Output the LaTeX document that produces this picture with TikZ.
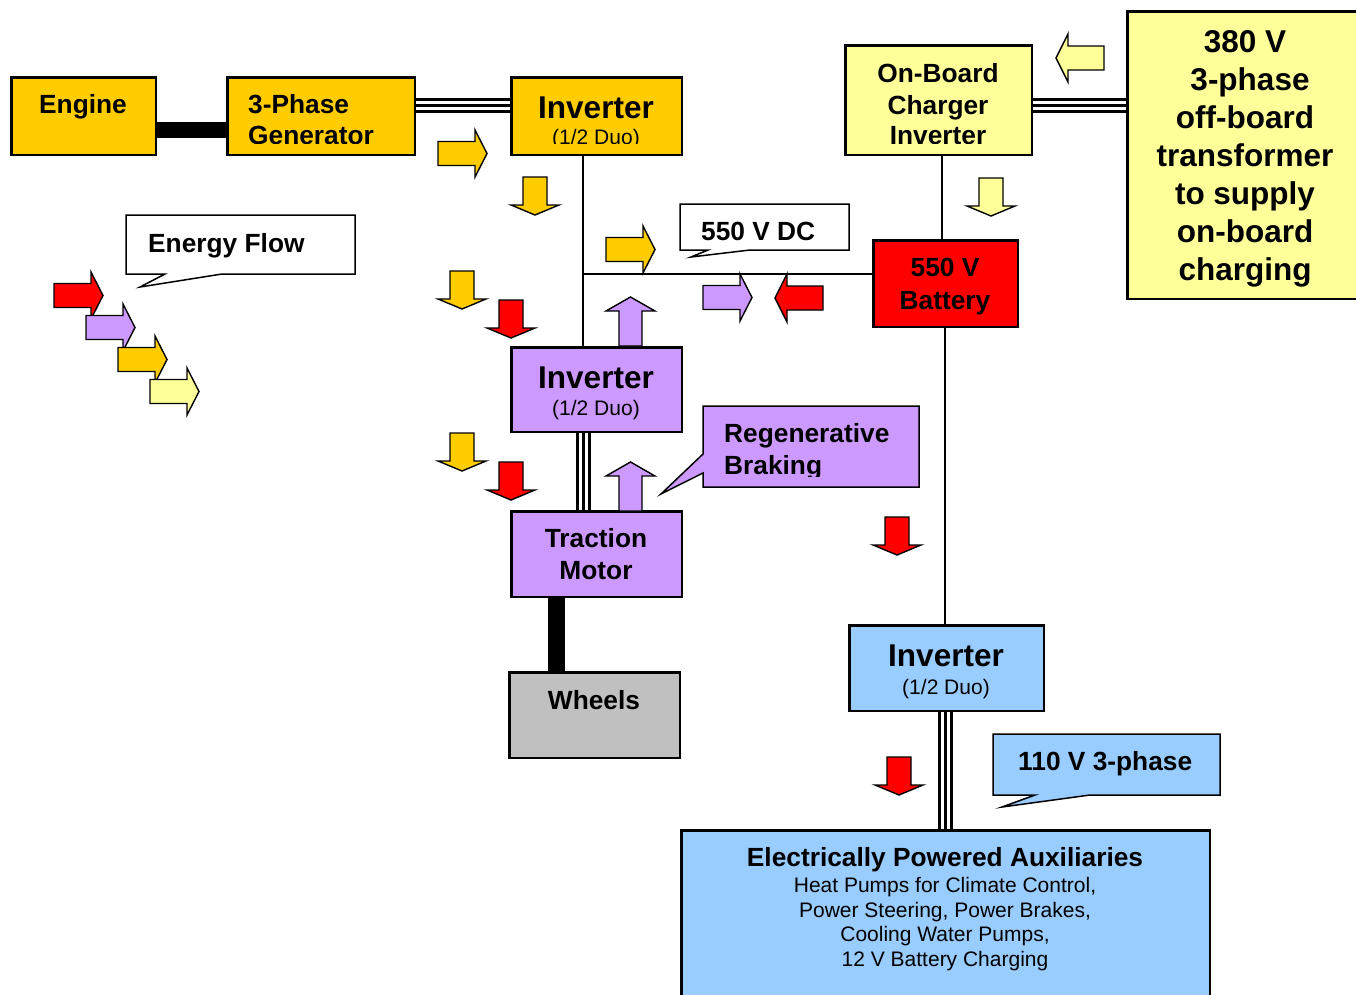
\documentclass[tikz,border=0pt]{standalone}
\usepackage{fontspec}
\setmainfont{Liberation Sans}
\definecolor{cGold}{HTML}{FFCC00}
\definecolor{cLite}{HTML}{FFFF99}
\definecolor{cPurp}{HTML}{CC99FF}
\definecolor{cRed}{HTML}{FF0000}
\definecolor{cBlue}{HTML}{99CCFF}
\definecolor{cGray}{HTML}{C0C0C0}
% block arrows showing the direction of energy flow; #1 colour, (#2,#3) top-left corner
\newcommand\flowR[3]{\filldraw[flow,fill=#1] (#2,#3+11.5) -- ++(37,0) -- ++(0,-11.5) -- ++(12,23.5) -- ++(-12,23.5) -- ++(0,-11.5) -- ++(-37,0) -- cycle;}
\newcommand\flowL[3]{\filldraw[flow,fill=#1] (#2+48,#3+12) -- ++(-36,0) -- ++(0,-12) -- ++(-12,24) -- ++(12,24) -- ++(0,-12) -- ++(36,0) -- cycle;}
\newcommand\flowD[3]{\filldraw[flow,fill=#1] (#2+12,#3) -- ++(24,0) -- ++(0,28) -- ++(12,0) -- ++(-24,10) -- ++(-24,-10) -- ++(12,0) -- cycle;}
\newcommand\flowU[3]{\filldraw[flow,fill=#1] (#2+13,#3+49) -- ++(0,-35) -- ++(-13,0) -- ++(24.5,-14) -- ++(24.5,14) -- ++(-13,0) -- ++(0,35) -- cycle;}
\tikzset{
  bx/.style={draw, line width=1.5pt, rectangle, inner sep=0pt, anchor=north west},
  flow/.style={draw, line width=1.4pt, line join=miter},
  thin/.style={line width=1.5pt},
  shaft/.style={line width=16pt},
  triple/.style={line width=3pt, preaction={draw, line width=15pt}, preaction={draw, white, line width=9pt}},
  callout/.style={draw, line width=1.5pt, line join=miter},
  tb/.style={font=\bfseries\fontsize{26.3}{31}\selectfont, inner sep=0pt, anchor=base},
  tbw/.style={tb, anchor=base west},
  tbig/.style={font=\bfseries\fontsize{31.5}{38}\selectfont, inner sep=0pt, anchor=base},
  tsm/.style={font=\fontsize{21}{24}\selectfont, inner sep=0pt, anchor=base}
}
\begin{document}
\begin{tikzpicture}[x=1pt,y=-1pt]
\useasboundingbox (0,0) rectangle (1356,994);
\clip (0,0) rectangle (1356,994);

% blocks
\node[bx, fill=cGold, minimum width=144pt, minimum height=77pt] (eng) at (11,77) {};
\node[bx, fill=cGold, minimum width=187pt, minimum height=77pt] (gen) at (227,77) {};
\node[bx, fill=cGold, minimum width=170pt, minimum height=77pt] (inv1) at (511,77) {};
\node[bx, fill=cLite, minimum width=186pt, minimum height=109pt] (chg) at (845,45) {};
\node[bx, fill=cLite, minimum width=240pt, minimum height=287pt] (ext) at (1127,11) {};
\node[bx, fill=cRed, minimum width=144pt, minimum height=86pt] (bat) at (873,240) {};
\node[bx, fill=cPurp, minimum width=170pt, minimum height=84pt] (inv2) at (511,347) {};
\node[bx, fill=cPurp, minimum width=170pt, minimum height=85pt] (motor) at (511,511) {};
\node[bx, fill=cGray, minimum width=170pt, minimum height=85pt] (wheels) at (509,672) {};
\node[bx, fill=cBlue, minimum width=194pt, minimum height=85pt] (inv3) at (849,625) {};
\node[bx, fill=cBlue, minimum width=528pt, minimum height=180pt] (aux) at (681,830) {};

% connections
\coordinate (j) at (583,274);
\draw[shaft] (eng.east |- 0,130) -- (gen.west |- 0,130);
\draw[line width=17pt] (motor.south -| 556.5,0) -- (wheels.north -| 556.5,0);
\draw[triple] (gen.east |- 0,105) -- (inv1.west |- 0,105);
\draw[triple] (chg.east |- 0,105) -- (ext.west |- 0,105);
\draw[triple] (inv2.south -| 583,0) -- (motor.north -| 583,0);
\draw[triple] (inv3.south -| 945,0) -- (aux.north -| 945,0);
\draw[thin] (inv1.south -| j) -- (inv2.north -| j);
\draw[thin] (j) -- (bat.west |- j);
\draw[thin] (chg.south -| 942,0) -- (bat.north -| 942,0);
\draw[thin] (bat.south -| 945,0) -- (inv3.north -| 945,0);

% block outlines drawn again over the line ends
\foreach \b in {eng,gen,inv1,chg,ext,bat,inv2,motor,wheels,inv3,aux}
  \draw[line width=1.5pt] (\b.north west) rectangle (\b.south east);

% callouts
\filldraw[callout, fill=white] (126,215) -- (355,215) -- (355,274) -- (222,274) -- (140,287) -- (165,274) -- (126,274) -- cycle;
\filldraw[callout, fill=white] (680,204) -- (849,204) -- (849,250) -- (750,250) -- (691,257) -- (708,250) -- (680,250) -- cycle;
\filldraw[callout, fill=cPurp] (703,406) -- (919,406) -- (919,487) -- (703,487) -- (703,473) -- (661,494) -- (703,454) -- cycle;
\filldraw[callout, fill=cBlue] (993,734) -- (1220,734) -- (1220,795) -- (1090,795) -- (1002,807) -- (1035,795) -- (993,795) -- cycle;

% energy flow arrows
\flowR{cGold}{438}{130}
\flowR{cGold}{606}{226}
\flowR{cPurp}{703}{274}
\flowL{cRed}{775}{274}
\flowL{cLite}{1056}{34}
\flowD{cGold}{511}{177}
\flowD{cGold}{438}{271}
\flowD{cRed}{487}{300}
\flowD{cGold}{438}{433}
\flowD{cRed}{487}{462}
\flowD{cRed}{873}{517}
\flowD{cRed}{875}{757}
\flowD{cLite}{967}{178}
\flowU{cPurp}{606}{297}
\flowU{cPurp}{606}{462}
% legend
\flowR{cRed}{54}{272}
\flowR{cPurp}{86}{304}
\flowR{cGold}{118}{336}
\flowR{cLite}{150}{368}

% texts
\node[tb] (tEng) at (83,113.4) {Engine};
\begin{scope}
  \clip (227,77) rectangle (414,143);
  \node[tbw] (tGen1) at (248,113.4) {3-Phase};
  \node[tbw] (tGen2) at (248,144.4) {Generator};
\end{scope}
\begin{scope}
  \clip (511,77) rectangle (681,143);
  \node[tbig] (tInv1) at (596,118.3) {Inverter};
  \node[tsm] (tInv1b) at (596,144.5) {(1/2 Duo)};
\end{scope}
\begin{scope}
  \clip (845,45) rectangle (1031,143);
  \node[tb] (tChg1) at (938,82.4) {On-Board};
  \node[tb] (tChg2) at (938,114.4) {Charger};
  \node[tb] (tChg3) at (938,144.4) {Inverter};
\end{scope}
\node[tbig] (tExt1) at (1245,52.3) {380 V};
\node[tbig] (tExt2) at (1250,90.3) {3-phase};
\node[tbig] (tExt3) at (1245,128.3) {off-board};
\node[tbig] (tExt4) at (1245,166.3) {transformer};
\node[tbig] (tExt5) at (1245,204.3) {to supply};
\node[tbig] (tExt6) at (1245,242.3) {on-board};
\node[tbig] (tExt7) at (1245,280.3) {charging};
\node[tbw] (tFlow) at (148,252.4) {Energy Flow};
\node[tbw] (tDC) at (701,240.4) {550 V DC};
\node[tb] (tBat1) at (945,276.4) {550 V};
\node[tb] (tBat2) at (945,309.4) {Battery};
\node[tbig] (tInv2) at (596,388.3) {Inverter};
\node[tsm] (tInv2b) at (596,415.5) {(1/2 Duo)};
\begin{scope}
  \clip (703,406) rectangle (919,476);
  \node[tbw] (tReg1) at (724,442.4) {Regenerative};
  \node[tbw] (tReg2) at (724,474.4) {Braking};
\end{scope}
\node[tb] (tMot1) at (596,547.4) {Traction};
\node[tb] (tMot2) at (596,579.4) {Motor};
\node[tb] (tWhl) at (594,709.4) {Wheels};
\node[tbig] (tInv3) at (946,666.3) {Inverter};
\node[tsm] (tInv3b) at (946,694.5) {(1/2 Duo)};
\node[tbw] (t110) at (1018,770.4) {110 V 3-phase};
\node[tb] (tAux) at (945,866.4) {Electrically Powered Auxiliaries};
\node[tsm] (tAux1) at (945,892.5) {Heat Pumps for Climate Control,};
\node[tsm] (tAux2) at (945,917.5) {Power Steering, Power Brakes,};
\node[tsm] (tAux3) at (945,941.5) {Cooling Water Pumps,};
\node[tsm] (tAux4) at (945,966.5) {12 V Battery Charging};
\end{tikzpicture}
\end{document}
